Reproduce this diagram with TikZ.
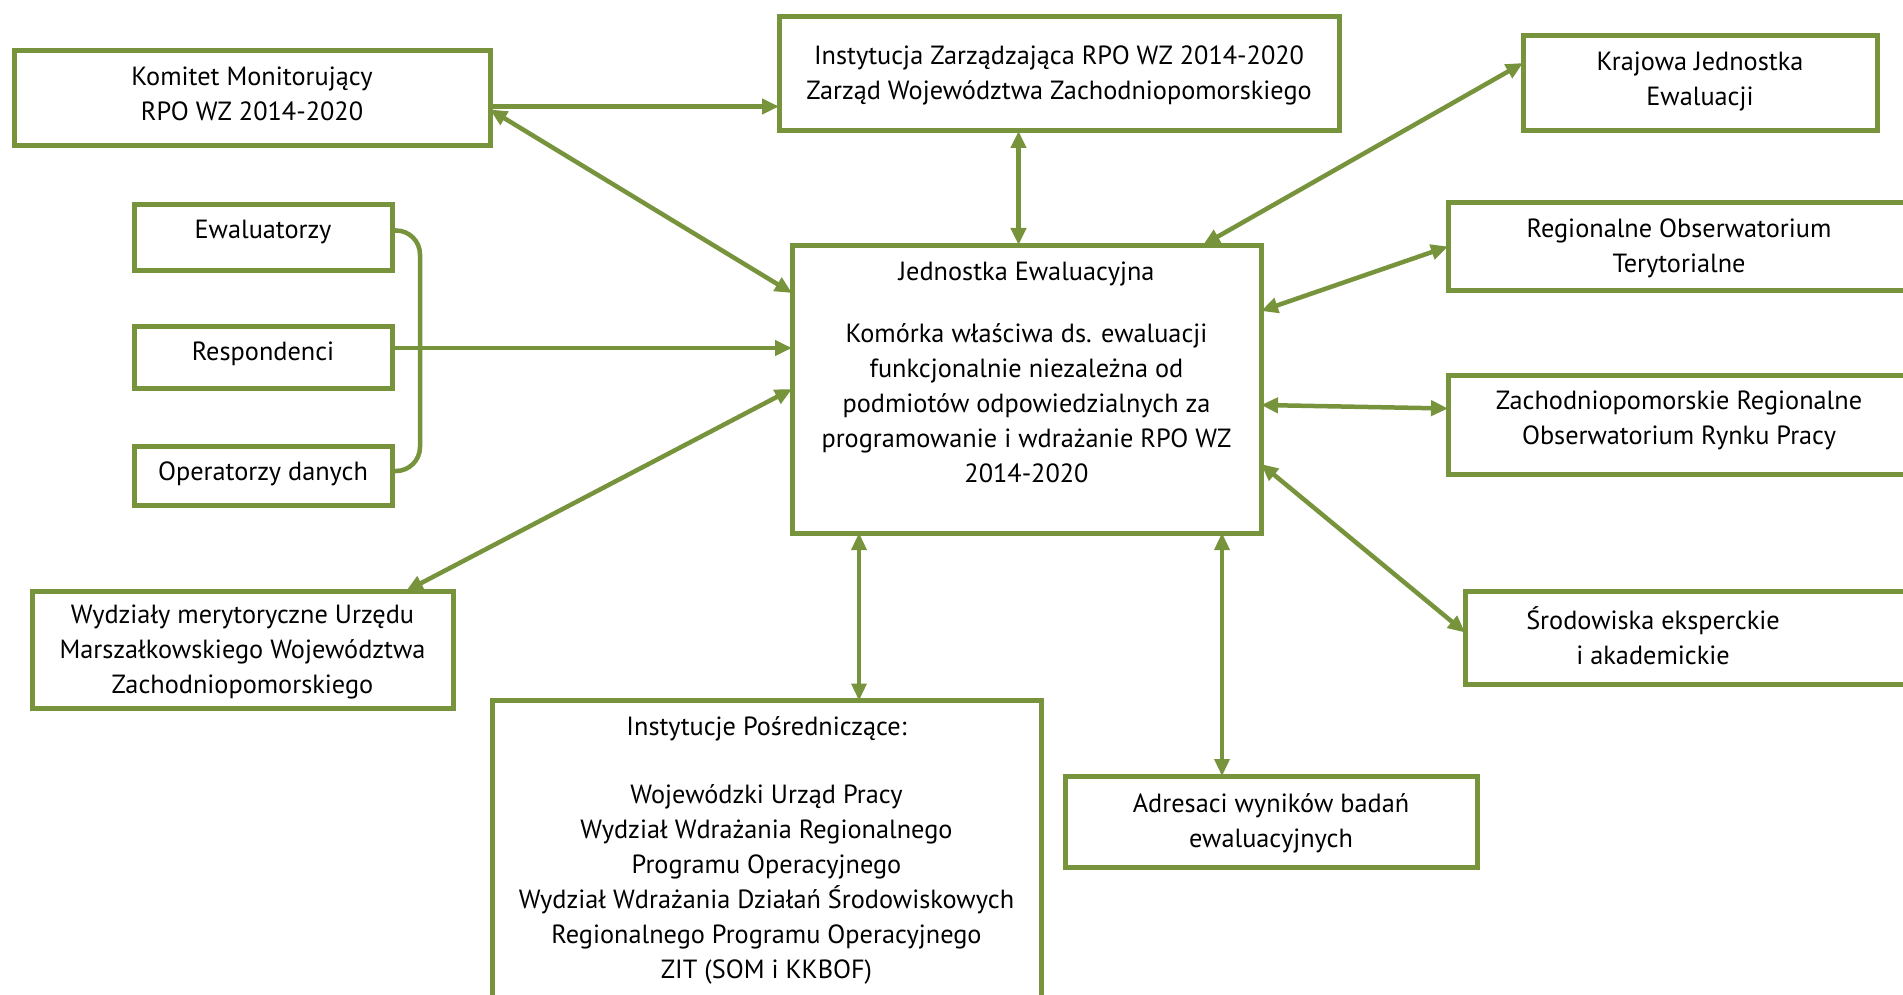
\documentclass[tikz,border=0pt]{standalone}
\usepackage{fontspec}
\setmainfont{PT Sans}
\usetikzlibrary{arrows.meta}
\definecolor{olivegr}{HTML}{77933C}
\begin{document}
\begin{tikzpicture}[x=1pt,y=-1pt,
 box/.style={draw=olivegr, line width=5pt, inner sep=0pt, outer sep=0pt, fill=white},
 txt/.style={align=center, font=\fontsize{26.3}{35}\selectfont, inner sep=0pt, text=black},
 tip/.tip={Triangle[length=17pt,width=15pt]},
 arr/.style={draw=olivegr, line width=4.5pt, -tip},
 arrb/.style={draw=olivegr, line width=4.5pt, tip-tip},
 arrt/.style={draw=olivegr, line width=3.5pt, tip-tip},
 brk/.style={draw=olivegr, line width=4.5pt, rounded corners=24pt},
]
\useasboundingbox (0,0) rectangle (1903,995);
\clip (0,0) rectangle (1903,995);
\fill[white] (0,0) rectangle (1903,995);

% boxes
\node[box, minimum width=476pt, minimum height=95pt] (kom) at (252,98.5) {};
\node[box, minimum width=560pt, minimum height=114pt] (iz) at (1059,74) {};
\node[box, minimum width=354pt, minimum height=95pt] (kra) at (1700,83.5) {};
\node[box, minimum width=258pt, minimum height=65pt] (ewa) at (263,237.5) {};
\node[box, minimum width=258pt, minimum height=62pt] (res) at (263,357) {};
\node[box, minimum width=258pt, minimum height=59pt] (ope) at (263,475.5) {};
\node[box, minimum width=469pt, minimum height=288pt] (jed) at (1026.5,389) {};
\node[box, minimum width=470pt, minimum height=87pt] (rot) at (1683,246.5) {};
\node[box, minimum width=470pt, minimum height=99pt] (zro) at (1683,424.5) {};
\node[box, minimum width=454pt, minimum height=93pt] (sro) at (1692,637.5) {};
\node[box, minimum width=421pt, minimum height=117pt] (wyd) at (242.5,649.5) {};
\node[box, minimum width=549pt, minimum height=311pt] (ins) at (766.5,856) {};
\node[box, minimum width=412pt, minimum height=91pt] (adr) at (1271,821.5) {};

% texts
\node[txt] (komt) at (252,94) {Komitet Monitorujący\\RPO WZ 2014-2020};
\node[txt] (izt) at (1059,75) {Instytucja Zarządzająca RPO WZ 2014-2020\\Zarząd Województwa Zachodniopomorskiego};
\node[txt] (krat) at (1700,81) {Krajowa Jednostka\\Ewaluacji};
\node[txt] (ewat) at (263,232) {Ewaluatorzy};
\node[txt] (rest) at (263,354) {Respondenci};
\node[txt] (opet) at (263,474) {Operatorzy danych};
\node[txt] (jedt) at (1026.5,372) {Jednostka Ewaluacyjna\\[27pt]Komórka właściwa ds. ewaluacji\\funkcjonalnie niezależna od\\podmiotów odpowiedzialnych za\\programowanie i wdrażanie RPO WZ\\2014-2020};
\node[txt] (rott) at (1679,248) {Regionalne Obserwatorium\\Terytorialne};
\node[txt] (zrot) at (1679,420) {Zachodniopomorskie Regionalne\\Obserwatorium Rynku Pracy};
\node[txt] (srot) at (1653,636) {Środowiska eksperckie\\i akademickie};
\node[txt] (wydt) at (242.5,652) {Wydziały merytoryczne Urzędu\\Marszałkowskiego Województwa\\Zachodniopomorskiego};
\node[txt] (adrt) at (1271,823) {Adresaci wyników badań\\ewaluacyjnych};
\node[txt] (inst) at (766.5,850) {Instytucje Pośredniczące:\\[33pt]Wojewódzki Urząd Pracy\\Wydział Wdrażania Regionalnego\\Programu Operacyjnego\\Wydział Wdrażania Działań Środowiskowych\\Regionalnego Programu Operacyjnego\\ZIT (SOM i KKBOF)};

% connectors
\draw[arr] ([yshift=-8pt]kom.east) -- ([yshift=-8pt]kom.east -| iz.west);
\draw[arrb] ([yshift=-11pt]kom.east) -- ([yshift=-48pt]jed.north west);
\draw[arrb] ([xshift=-8pt]jed.north) -- ([xshift=-8pt]jed.north |- iz.south);
\draw[arrb] ([yshift=-27pt]kra.north west) -- ([xshift=-58pt]jed.north east);
\draw[arrb] ([yshift=-66pt]jed.north east) -- (rot.west);
\draw[arrb] ([yshift=-16pt]jed.east) -- ([yshift=16pt]zro.west);
\draw[arrb] ([yshift=-75pt]jed.east) -- ([yshift=5pt]sro.west);
\draw[arrt] ([xshift=-49pt]adr.north) -- ([xshift=-49pt]adr.north |- jed.south);
\draw[arrt] ([xshift=92.5pt]ins.north) -- ([xshift=92.5pt]ins.north |- jed.south);
\draw[arrb] ([xshift=-47pt]wyd.north east) -- (jed.west);
\draw[arr] ([yshift=9pt]res.east) -- ([yshift=9pt]res.east -| jed.west);
\coordinate (bx) at (420,0);
\draw[brk] ([yshift=7pt]ewa.east) -- ([yshift=7pt]ewa.east -| bx) -- ([yshift=4.5pt]ope.east -| bx) -- ([yshift=4.5pt]ope.east);
\end{tikzpicture}
\end{document}
